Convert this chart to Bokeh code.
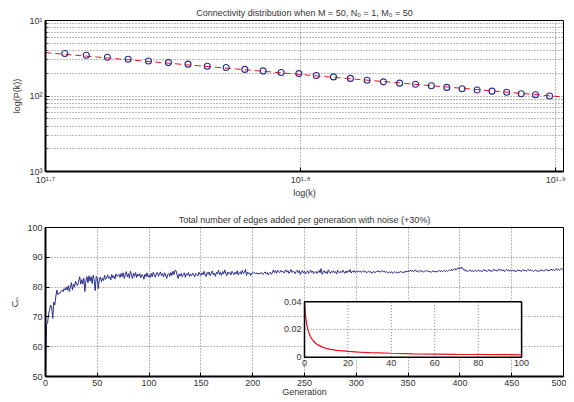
from bokeh.plotting import figure
from bokeh.models import Range1d, FixedTicker, CustomJSTickFormatter
from bokeh.layouts import column
from bokeh.embed import file_html
from bokeh.resources import INLINE

FONT = "Liberation Sans"
TXT = "#333333"
BLUE = "#2b2d8e"
RED = "#e8141c"
GRID = "#777777"
FS = "9px"

# ---------------- top chart data ----------------
k_values = [51, 52, 53, 54, 55, 56, 57, 58, 59, 60, 61, 62, 63, 64, 65,
            66, 67, 68, 69, 70, 71, 72, 73, 74, 75, 76, 77, 78, 79]
p_values = [0.0365, 0.0346, 0.0326, 0.0307, 0.0291, 0.0277, 0.0264, 0.0248,
            0.0239, 0.0225, 0.0215, 0.0205, 0.0198, 0.0187, 0.0179, 0.0171,
            0.0162, 0.0154, 0.0148, 0.0143, 0.0137, 0.0130, 0.0125, 0.0120,
            0.0116, 0.0112, 0.0107, 0.0104, 0.0100]
fit_k = [50.12, 80.0]
fit_p = [0.0375, 0.0097]

top_x_ticks = [50.1187, 63.0957, 79.4328]
top_x_labels = ["10¹·⁷", "10¹·⁸", "10¹·⁹"]
top_y_ticks = [0.001, 0.01, 0.1]
top_y_labels = ["10³", "10²", "10¹"]
top_y_minor = [0.002, 0.003, 0.004, 0.005, 0.006, 0.007, 0.008, 0.009,
               0.02, 0.03, 0.04, 0.05, 0.06, 0.07, 0.08, 0.09]

# ---------------- bottom chart data ----------------
generations = list(range(0, 501))
edges = [
    50, 67.5, 68, 71, 72.5, 74, 73, 69.5, 75, 74,
    77, 79, 77.5, 78, 78, 78.5, 79, 78.5, 79.5, 79,
    80, 79, 80.5, 78.5, 80, 81.5, 79, 81, 80, 82,
    81, 80.5, 82, 83.5, 81, 82.5, 81, 83, 78.5, 82,
    83.5, 81.5, 83.8, 82, 83.5, 81.2, 84, 82.5, 78.8, 83.6,
    83, 79.5, 82.8, 83.4, 81.8, 83, 82.2, 84, 82.6, 83.2,
    84.1, 82.9, 83.5, 82.4, 84.2, 83.1, 83.8, 82.7, 84.4, 83.6,
    83.9, 84.3, 83.2, 84.6, 83.5, 84.8, 82.9, 84.1, 85.2, 83.4,
    84.5, 83, 85.4, 84.1, 82.8, 84.7, 83.6, 84.9, 83.2, 84.4,
    83.7, 84.5, 83.1, 84.2, 83.9, 82.6, 84.3, 83.5, 84.8, 83.4,
    84, 83.2, 84.6, 83.5, 85, 84.1, 83.3, 84.7, 84.9, 83.6,
    84.4, 85.1, 83.8, 84.5, 83.4, 84.8, 84, 82.9, 84.3, 84.7,
    83.6, 84.9, 83.9, 85.3, 84.2, 85.6, 85.5, 84.1, 82.9, 84.4,
    83.7, 84.6, 83.5, 84.2, 84.8, 83.3, 84.5, 84, 84.9, 83.6,
    84.3, 83.8, 84.7, 84.1, 83.4, 84.6, 84.2, 83.7, 85, 84.4,
    83.9, 84.8, 84.2, 85.3, 84, 83.5, 84.9, 84.3, 85.1, 83.8,
    84.6, 85.4, 84.1, 84.7, 83.6, 85, 84.5, 85.7, 84.2, 84.9,
    83.9, 85.2, 84.4, 85.8, 84.6, 83.8, 85.1, 84.5, 84.9, 84.1,
    85.3, 84.7, 84.2, 85, 84.4, 85.5, 84, 84.8, 85.2, 84.3,
    85.6, 84.6, 84.9, 85.9, 83.9, 85.1, 84.4, 84.8, 83.8, 84.7,
    85, 84.6, 84.9, 84.5, 84.8, 84.3, 84.7, 84.4, 84.9, 84.6,
    84.2, 84.8, 85.1, 84.5, 84.9, 84.1, 84.6, 85, 84.3, 84.8,
    85.8, 84.9, 85.5, 84.6, 85.7, 85.2, 84.8, 85.6, 85.1, 85.4,
    84.7, 85.3, 85.8, 85, 85.5, 84.6, 85.2, 85.9, 84.9, 85.4,
    85.1, 84.5, 85.3, 85.7, 84.8, 85.5, 84.2, 85.1, 85.6, 84.7,
    85.3, 84.4, 85, 85.5, 84.6, 85.2, 85.7, 84.9, 85.4, 84.5,
    84.9, 85.3, 84.6, 85.1, 85.6, 84.8, 86.2, 84.3, 85, 85.5,
    84.7, 85.2, 84.5, 85.8, 85.1, 84.6, 85.3, 84.9, 85.5, 84.8,
    85.2, 84.4, 85.6, 85, 84.7, 85.3, 84.9, 85.7, 85.1, 84.6,
    85.4, 84.8, 85.5, 85.1, 85.9, 84.7, 85.3, 85, 85.6, 84.9,
    85.3, 85, 85.5, 85.1, 85.4, 84.9, 85.2, 85.6, 85, 85.3,
    84.8, 85.1, 85.4, 84.9, 85.2, 84.7, 85, 85.3, 84.8, 85.1,
    85.5, 85.2, 85.4, 85, 85.3, 85.6, 85.1, 85.4, 84.9, 85.2,
    85, 84.7, 85.1, 84.8, 85.2, 84.6, 84.9, 85.2, 84.8, 85,
    84.7, 85.1, 84.9, 85.3, 85, 84.8, 85.2, 84.9, 85.4, 85.1,
    85.5, 85.2, 85.7, 85.3, 85.6, 85.1, 85.4, 85.8, 85.2, 85.5,
    85, 85.3, 85.7, 85.1, 85.4, 85, 85.3, 85.6, 85.2, 85.5,
    85.1, 85.3, 84.9, 85.2, 85.5, 85.1, 85.3, 85, 85.4, 85.2,
    85.6, 85.3, 85.5, 85.1, 85.4, 85.7, 85.2, 85.5, 85.3, 85.6,
    85.8, 85.4, 86, 85.5, 85.9, 86.3, 85.7, 86.1, 86.5, 86,
    86.6, 86.2, 86.7, 86.1, 85.6, 85.9, 85.3, 85.6, 85.2, 85.5,
    85.8, 85.3, 85.6, 85.1, 85.4, 85.7, 85.2, 85.5, 85.8, 85.3,
    85.6, 85.1, 85.5, 85.9, 85.4, 85.7, 85.2, 85.6, 85.9, 85.3,
    85.6, 85.2, 85.7, 86, 85.5, 85.8, 85.3, 85.7, 86.1, 85.6,
    85.9, 85.4, 85.8, 85.2, 85.6, 86, 85.5, 85.8, 85.3, 85.7,
    85.4, 85.8, 85.3, 85.6, 85.1, 85.5, 85.8, 85.4, 85.7, 85.2,
    85.5, 85.9, 85.4, 85.7, 85.3, 85.6, 86, 85.5, 85.8, 85.4,
    85.6, 85.2, 85.5, 85.8, 85.3, 85.6, 85.1, 85.5, 85.9, 85.4,
    85.7, 85.3, 85.6, 86, 85.5, 85.8, 85.4, 85.7, 86.1, 85.6,
    85.9, 85.5, 85.8, 86.2, 85.7, 86, 85.6, 85.9, 86.3, 85.8,
    86,
]
main_x_ticks = [0, 50, 100, 150, 200, 250, 300, 350, 400, 450, 500]
main_y_ticks = [50, 60, 70, 80, 90, 100]

# inset data
inset_x = [0, 0.5, 1, 1.5, 2, 3, 4, 5, 6, 8, 10, 12, 15, 20, 25, 30,
           40, 50, 60, 70, 80, 90, 100]
inset_y = [0.04, 0.03, 0.024, 0.02, 0.0175, 0.014, 0.0118, 0.0102, 0.009,
           0.0074, 0.0063, 0.0056, 0.0049, 0.0041, 0.0036, 0.0033, 0.0028,
           0.0024, 0.0022, 0.0020, 0.0019, 0.0018, 0.0017]
inset_x_ticks = [0, 20, 40, 60, 80, 100]
inset_x_labels = ["0", "20", "40", "60", "80", "100"]
inset_y_ticks = [0, 0.02, 0.04]
inset_y_labels = ["0", "0.02", "0.04"]

LOOKUP = """
let best = 0;
for (let i = 0; i < tvals.length; i++) {
  if (Math.abs(tvals[i] - tick) < Math.abs(tvals[best] - tick)) best = i;
}
return tlabels[best];
"""


def style_fig(p, standoff):
    for ax in (p.xaxis, p.yaxis):
        ax.major_label_text_font = FONT
        ax.major_label_text_font_size = FS
        ax.major_label_text_color = TXT
        ax.axis_label_text_font = FONT
        ax.axis_label_text_font_size = FS
        ax.axis_label_text_color = TXT
        ax.axis_label_text_font_style = "normal"
        ax.axis_line_color = "black"
        ax.axis_line_width = 2
        ax.major_tick_in = 4
        ax.major_tick_out = 0
        ax.minor_tick_in = 2
        ax.minor_tick_out = 0
        ax.major_tick_line_color = "black"
        ax.minor_tick_line_color = "black"
        ax.major_label_standoff = 3
    p.outline_line_color = "black"
    p.outline_line_width = 1
    p.outline_line_alpha = 1
    p.title.text_font = FONT
    p.title.text_font_size = FS
    p.title.text_font_style = "normal"
    p.title.text_color = TXT
    p.title.align = "center"
    p.title.standoff = standoff
    p.grid.grid_line_color = GRID
    p.grid.grid_line_dash = "1 2"
    p.grid.grid_line_width = 1


# ---------------- top figure ----------------
p1 = figure(width=566, height=200, x_axis_type="log", y_axis_type="log",
            x_range=Range1d(top_x_ticks[0], fit_k[1]), y_range=Range1d(0.001, 0.1),
            output_backend="svg", toolbar_location=None,
            min_border_left=45, min_border_right=3, min_border_top=20, min_border_bottom=28,
            title="Connectivity distribution when M = 50, N₀ = 1, M₀ = 50")
style_fig(p1, 6)
p1.xaxis.ticker = FixedTicker(ticks=top_x_ticks)
p1.xaxis.formatter = CustomJSTickFormatter(args=dict(tvals=top_x_ticks, tlabels=top_x_labels), code=LOOKUP)
p1.yaxis.ticker = FixedTicker(ticks=top_y_ticks, minor_ticks=top_y_minor)
p1.yaxis.formatter = CustomJSTickFormatter(args=dict(tvals=top_y_ticks, tlabels=top_y_labels), code=LOOKUP)
p1.xaxis.axis_label = "log(k)"
p1.yaxis.axis_label = "log(P(k))"
p1.xaxis.axis_label_standoff = 0
p1.yaxis.axis_label_standoff = 4
p1.ygrid.minor_grid_line_color = GRID
p1.ygrid.minor_grid_line_dash = "1 2"

p1.line(fit_k, fit_p, line_color=RED, line_width=1, line_dash="6 4")
p1.scatter(k_values, p_values, marker="circle", size=6, fill_color=None,
           line_color=BLUE, line_width=1.1)

# ---------------- bottom figure ----------------
p2 = figure(width=566, height=200, x_range=Range1d(0, 500), y_range=Range1d(50, 100),
            output_backend="svg", toolbar_location=None,
            min_border_left=45, min_border_right=3, min_border_top=27, min_border_bottom=24,
            title="Total number of edges added per generation with noise (+30%)")
style_fig(p2, 5)
p2.xaxis.ticker = FixedTicker(ticks=main_x_ticks)
p2.yaxis.ticker = FixedTicker(ticks=main_y_ticks)
p2.xaxis.axis_label = "Generation"
p2.yaxis.axis_label = "Cₙ"
p2.xaxis.axis_label_standoff = -2
p2.yaxis.axis_label_standoff = 4

p2.line(generations, edges, line_color=BLUE, line_width=1)

# inset drawn in its own ranges placed over the lower right of the frame
p2.extra_x_ranges = {"ix": Range1d(-119.3, 119.3)}
p2.extra_y_ranges = {"iy": Range1d(-0.01394, 0.0934)}
box = dict(left=[inset_x_ticks[0]], right=[inset_x_ticks[-1]],
           bottom=[inset_y_ticks[0]], top=[inset_y_ticks[-1]])
p2.quad(**box, fill_color="white", line_color=None, x_range_name="ix", y_range_name="iy")
gx = inset_x_ticks[1:-1]
p2.segment(x0=gx, x1=gx, y0=[inset_y_ticks[0]] * len(gx), y1=[inset_y_ticks[-1]] * len(gx),
           line_color=GRID, line_dash="1 2", line_width=1, x_range_name="ix", y_range_name="iy")
p2.segment(x0=[inset_x_ticks[0]], x1=[inset_x_ticks[-1]], y0=[inset_y_ticks[1]], y1=[inset_y_ticks[1]],
           line_color=GRID, line_dash="1 2", line_width=1, x_range_name="ix", y_range_name="iy")
p2.line(inset_x, inset_y, line_color=RED, line_width=1.2, x_range_name="ix", y_range_name="iy")
p2.quad(**box, fill_color=None, line_color="black", line_width=1.5, x_range_name="ix", y_range_name="iy")
p2.text(x=inset_x_ticks, y=[inset_y_ticks[0]] * len(inset_x_ticks), text=inset_x_labels,
        text_align="center", text_baseline="top", y_offset=3, text_font_size=FS,
        text_color=TXT, text_font={"value": FONT}, x_range_name="ix", y_range_name="iy")
p2.text(x=[inset_x_ticks[0]] * len(inset_y_ticks), y=inset_y_ticks, text=inset_y_labels,
        text_align="right", text_baseline="middle", x_offset=-3, text_font_size=FS,
        text_color=TXT, text_font={"value": FONT}, x_range_name="ix", y_range_name="iy")

layout = column(p1, p2)
open("out.html", "w").write(file_html(layout, INLINE))
